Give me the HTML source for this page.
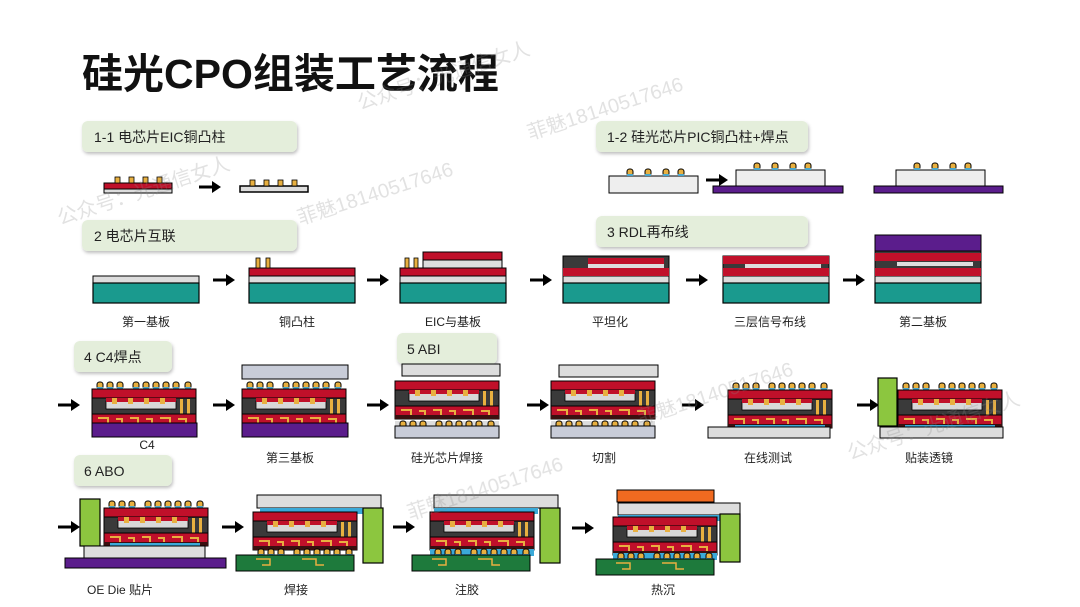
<!DOCTYPE html>
<html><head><meta charset="utf-8"><style>
html,body{margin:0;padding:0;background:#fff}
svg{display:block}
text{font-family:"Liberation Sans","Noto Sans CJK SC",sans-serif}
</style></head><body>
<svg width="1080" height="607" viewBox="0 0 1080 607" xmlns="http://www.w3.org/2000/svg">
<defs>
<filter id="sh" x="-10%" y="-20%" width="130%" height="160%"><feDropShadow dx="1" dy="2" stdDeviation="1.5" flood-color="#000" flood-opacity="0.25"/></filter>
<g id="arr"><line x1="0" y1="0" x2="15" y2="0" stroke="#000" stroke-width="3"/><path d="M13,-6L22,0L13,6z" fill="#000"/></g>
<g id="bump"><rect x="-3" y="-7" width="6" height="7" rx="2.5" fill="#e8b040" stroke="#000" stroke-width="1"/><rect x="-3" y="-2" width="6" height="2" fill="#4aa6cc"/></g>
<g id="core">
<rect x="0" y="0" width="104" height="9" fill="#c0102a" stroke="#000" stroke-width="1"/>
<rect x="0" y="9" width="104" height="16" fill="#3a3a3a" stroke="#000" stroke-width="1"/>
<rect x="14" y="12" width="70" height="8" fill="#d8d8d8" stroke="#000" stroke-width="0.8"/>
<rect x="14" y="9" width="70" height="4" fill="#c0102a"/>
<rect x="20" y="9" width="5" height="6" fill="#e8b040"/><rect x="36" y="9" width="5" height="6" fill="#e8b040"/><rect x="52" y="9" width="5" height="6" fill="#e8b040"/><rect x="68" y="9" width="5" height="6" fill="#e8b040"/>
<rect x="88" y="10" width="3" height="15" fill="#e8b040"/><rect x="95" y="10" width="3" height="15" fill="#e8b040"/>
<rect x="0" y="25" width="104" height="13" fill="#c0102a" stroke="#000" stroke-width="1"/>
<path d="M6,29h10v6M24,30h6v5M38,29h8v6M54,30h6v5M68,29h10v6M86,30h8v5" stroke="#e8b040" stroke-width="2" fill="none"/>
<rect x="0" y="34" width="104" height="4" fill="#3a1010"/>
</g>
<g id="topbumps"><use href="#bump" x="8" y="0"/><use href="#bump" x="18" y="0"/><use href="#bump" x="28" y="0"/><use href="#bump" x="44" y="0"/><use href="#bump" x="54" y="0"/><use href="#bump" x="64" y="0"/><use href="#bump" x="74" y="0"/><use href="#bump" x="84" y="0"/><use href="#bump" x="96" y="0"/></g>
<g id="base2"><rect x="0" y="0" width="106" height="7" fill="#ddd" stroke="#000" stroke-width="1"/><rect x="0" y="7" width="106" height="20" fill="#1a9a8e" stroke="#000" stroke-width="1.2"/></g>
<g id="green"><rect x="0" y="0" width="118" height="16" fill="#1e7a3c" stroke="#000" stroke-width="1"/><path d="M20,4h14v6h-8M66,4h14v6h8" stroke="#e8b040" stroke-width="1.5" fill="none"/></g>
</defs>

<text x="82" y="88" font-size="41" font-weight="bold" fill="#111">硅光CPO组装工艺流程</text>

<g font-size="14" fill="#222">
<rect x="82" y="121" width="215" height="31" rx="6" fill="#e4eedb" filter="url(#sh)"/><text x="94" y="142">1-1 电芯片EIC铜凸柱</text>
<rect x="596" y="121" width="212" height="31" rx="6" fill="#e4eedb" filter="url(#sh)"/><text x="607" y="142">1-2 硅光芯片PIC铜凸柱+焊点</text>
<rect x="82" y="220" width="215" height="31" rx="6" fill="#e4eedb" filter="url(#sh)"/><text x="94" y="241">2 电芯片互联</text>
<rect x="596" y="216" width="212" height="31" rx="6" fill="#e4eedb" filter="url(#sh)"/><text x="607" y="237">3 RDL再布线</text>
<rect x="74" y="341" width="98" height="31" rx="6" fill="#e4eedb" filter="url(#sh)"/><text x="84" y="362">4  C4焊点</text>
<rect x="397" y="333" width="100" height="31" rx="6" fill="#e4eedb" filter="url(#sh)"/><text x="407" y="354">5  ABI</text>
<rect x="74" y="455" width="98" height="31" rx="6" fill="#e4eedb" filter="url(#sh)"/><text x="84" y="476">6  ABO</text>
</g>

<rect x="104" y="183" width="68" height="6" fill="#c0102a" stroke="#000"/><rect x="104" y="189" width="68" height="4" fill="#ddd" stroke="#000"/>
<g fill="#e8b040" stroke="#000" stroke-width="0.8"><rect x="115" y="177" width="5" height="6"/><rect x="129" y="177" width="5" height="6"/><rect x="143" y="177" width="5" height="6"/><rect x="157" y="177" width="5" height="6"/></g>
<use href="#arr" x="199" y="187"/>
<rect x="240" y="186" width="68" height="6" fill="#ddd" stroke="#000" stroke-width="1.5"/>
<g fill="#e8b040" stroke="#000" stroke-width="0.8"><rect x="250" y="180" width="5" height="6"/><rect x="264" y="180" width="5" height="6"/><rect x="278" y="180" width="5" height="6"/><rect x="292" y="180" width="5" height="6"/></g>

<rect x="609" y="176" width="89" height="17" fill="#eee" stroke="#000"/>
<use href="#bump" x="630" y="176"/><use href="#bump" x="648" y="176"/><use href="#bump" x="666" y="176"/><use href="#bump" x="681" y="176"/>
<use href="#arr" x="706" y="180"/>
<rect x="713" y="186" width="130" height="7" fill="#5b1d8c" stroke="#000"/><rect x="736" y="170" width="89" height="16" fill="#eee" stroke="#000"/>
<use href="#bump" x="757" y="170"/><use href="#bump" x="775" y="170"/><use href="#bump" x="793" y="170"/><use href="#bump" x="808" y="170"/>
<rect x="874" y="186" width="129" height="7" fill="#5b1d8c" stroke="#000"/><rect x="896" y="170" width="89" height="16" fill="#eee" stroke="#000"/>
<use href="#bump" x="917" y="170"/><use href="#bump" x="935" y="170"/><use href="#bump" x="953" y="170"/><use href="#bump" x="968" y="170"/>

<use href="#base2" x="93" y="276"/>
<use href="#arr" x="213" y="280"/>
<use href="#base2" x="249" y="276"/><rect x="249" y="268" width="106" height="8" fill="#c0102a" stroke="#000"/>
<rect x="256" y="258" width="4" height="10" fill="#e8b040" stroke="#000" stroke-width="0.8"/><rect x="266" y="258" width="4" height="10" fill="#e8b040" stroke="#000" stroke-width="0.8"/>
<use href="#arr" x="367" y="280"/>
<use href="#base2" x="400" y="276"/><rect x="400" y="268" width="106" height="8" fill="#c0102a" stroke="#000"/>
<rect x="405" y="258" width="4" height="10" fill="#e8b040" stroke="#000" stroke-width="0.8"/><rect x="414" y="258" width="4" height="10" fill="#e8b040" stroke="#000" stroke-width="0.8"/>
<rect x="423" y="260" width="79" height="8" fill="#ddd" stroke="#000"/><rect x="423" y="252" width="79" height="8" fill="#c0102a" stroke="#000"/>
<use href="#arr" x="530" y="280"/>
<use href="#base2" x="563" y="276"/><rect x="563" y="256" width="106" height="20" fill="#3a3a3a" stroke="#000"/><rect x="563" y="268" width="106" height="8" fill="#c0102a"/><rect x="588" y="258" width="76" height="6" fill="#c0102a"/><rect x="588" y="264" width="76" height="4" fill="#ddd"/>
<use href="#arr" x="686" y="280"/>
<use href="#base2" x="723" y="276"/><rect x="723" y="256" width="106" height="20" fill="#3a3a3a" stroke="#000"/><rect x="723" y="256" width="106" height="8" fill="#c0102a"/><rect x="723" y="268" width="106" height="8" fill="#c0102a"/><rect x="745" y="264" width="76" height="4" fill="#ddd"/>
<use href="#arr" x="843" y="280"/>
<use href="#base2" x="875" y="276"/><rect x="875" y="235" width="106" height="16" fill="#5b1d8c" stroke="#000"/><rect x="875" y="251" width="106" height="25" fill="#3a3a3a" stroke="#000"/><rect x="875" y="253" width="106" height="8" fill="#c0102a"/><rect x="875" y="268" width="106" height="8" fill="#c0102a"/><rect x="897" y="262" width="76" height="4" fill="#ddd"/>

<g font-size="12" fill="#222" text-anchor="middle">
<text x="146" y="326">第一基板</text><text x="297" y="326">铜凸柱</text><text x="453" y="326">EIC与基板</text><text x="610" y="326">平坦化</text><text x="770" y="326">三层信号布线</text><text x="923" y="326">第二基板</text>
<text x="147" y="449">C4</text><text x="290" y="462">第三基板</text><text x="447" y="462">硅光芯片焊接</text><text x="604" y="462">切割</text><text x="768" y="462">在线测试</text><text x="929" y="462">贴装透镜</text>
<text x="120" y="594">OE Die 贴片</text><text x="296" y="594">焊接</text><text x="467" y="594">注胶</text><text x="663" y="594">热沉</text>
</g>

<use href="#arr" x="58" y="405"/>
<use href="#topbumps" x="92" y="389"/><use href="#core" x="92" y="389"/><rect x="92" y="423" width="105" height="14" fill="#5b1d8c" stroke="#000"/>
<use href="#arr" x="213" y="405"/>
<rect x="242" y="365" width="106" height="14" fill="#c8ccd8" stroke="#000"/><use href="#topbumps" x="242" y="389"/><use href="#core" x="242" y="389"/><rect x="242" y="423" width="106" height="14" fill="#5b1d8c" stroke="#000"/>
<use href="#arr" x="367" y="405"/>
<rect x="402" y="364" width="98" height="12" fill="#ddd" stroke="#000"/><use href="#core" x="395" y="381"/><rect x="395" y="421" width="104" height="6" fill="#ddd"/><use href="#topbumps" x="395" y="428"/><rect x="395" y="426" width="104" height="12" fill="#c8ccd8" stroke="#000"/>
<use href="#arr" x="527" y="405"/>
<rect x="559" y="365" width="99" height="12" fill="#ddd" stroke="#000"/><use href="#core" x="551" y="381"/><rect x="551" y="421" width="104" height="6" fill="#ddd"/><use href="#topbumps" x="551" y="428"/><rect x="551" y="426" width="104" height="12" fill="#c8ccd8" stroke="#000"/>
<use href="#arr" x="682" y="405"/>
<use href="#topbumps" x="728" y="390"/><use href="#core" x="728" y="390"/><rect x="735" y="425" width="90" height="6" fill="#3ba9d8"/><rect x="708" y="427" width="122" height="11" fill="#ddd" stroke="#000"/>
<use href="#arr" x="857" y="405"/>
<rect x="878" y="378" width="19" height="48" fill="#8cc63f" stroke="#000" stroke-width="1.2"/>
<use href="#topbumps" x="898" y="390"/><use href="#core" x="898" y="390"/><rect x="905" y="425" width="90" height="6" fill="#3ba9d8"/><rect x="880" y="427" width="123" height="11" fill="#ddd" stroke="#000"/>

<use href="#arr" x="58" y="527"/>
<rect x="80" y="499" width="20" height="47" fill="#8cc63f" stroke="#000" stroke-width="1.2"/>
<use href="#topbumps" x="104" y="508"/><use href="#core" x="104" y="508"/><rect x="110" y="543" width="90" height="6" fill="#3ba9d8"/>
<rect x="84" y="546" width="121" height="12" fill="#ddd" stroke="#000"/><rect x="65" y="558" width="161" height="10" fill="#5b1d8c" stroke="#000"/>
<use href="#arr" x="222" y="527"/>
<rect x="257" y="495" width="124" height="13" fill="#ddd" stroke="#000"/><rect x="260" y="508" width="104" height="6" fill="#3ba9d8"/>
<use href="#core" x="253" y="512"/><use href="#topbumps" x="253" y="556"/><rect x="363" y="508" width="20" height="55" fill="#8cc63f" stroke="#000" stroke-width="1.2"/>
<use href="#green" x="236" y="555"/>
<use href="#arr" x="393" y="527"/>
<rect x="434" y="495" width="124" height="13" fill="#ddd" stroke="#000"/><rect x="434" y="508" width="104" height="6" fill="#3ba9d8"/>
<use href="#core" x="430" y="512"/><rect x="430" y="549" width="104" height="7" fill="#3ba9d8"/><use href="#topbumps" x="430" y="556"/><rect x="540" y="508" width="20" height="55" fill="#8cc63f" stroke="#000" stroke-width="1.2"/>
<use href="#green" x="412" y="555"/>
<use href="#arr" x="572" y="528"/>
<rect x="617" y="490" width="97" height="12" fill="#f06a20" stroke="#000"/><rect x="618" y="503" width="122" height="12" fill="#ddd" stroke="#000"/><rect x="618" y="515" width="104" height="6" fill="#3ba9d8"/>
<use href="#core" x="613" y="517"/><rect x="613" y="553" width="104" height="7" fill="#3ba9d8"/><use href="#topbumps" x="613" y="560"/><rect x="720" y="514" width="20" height="48" fill="#8cc63f" stroke="#000" stroke-width="1.2"/>
<use href="#green" x="596" y="559"/>

<g font-family="Liberation Serif,Noto Serif CJK SC,serif" font-size="20" fill="#888" opacity="0.25">
<text x="360" y="110" transform="rotate(-18 360 110)">公众号：光通信女人</text>
<text x="300" y="225" transform="rotate(-18 300 225)">菲魅18140517646</text>
<text x="60" y="225" transform="rotate(-18 60 225)">公众号：光通信女人</text>
<text x="530" y="140" transform="rotate(-18 530 140)">菲魅18140517646</text>
<text x="640" y="425" transform="rotate(-18 640 425)">菲魅18140517646</text>
<text x="850" y="460" transform="rotate(-18 850 460)">公众号：光通信女人</text>
<text x="410" y="520" transform="rotate(-18 410 520)">菲魅18140517646</text>
</g>
</svg>
</body></html>
